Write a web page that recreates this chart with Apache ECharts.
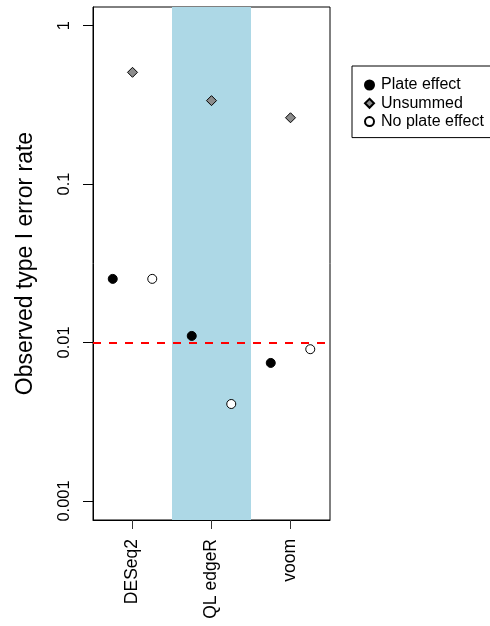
<!DOCTYPE html>
<html>
<head>
<meta charset="utf-8">
<script src="https://cdn.jsdelivr.net/npm/echarts@6/dist/echarts.min.js"></script>
<style>
html,body{margin:0;padding:0;background:#fff;}
#chart{width:490px;height:626px;}
</style>
</head>
<body>
<div id="chart"></div>
<script>
const methods = ['DESeq2', 'QL edgeR', 'voom'];
const plateEffect = [0.0252, 0.0110, 0.00743];
const unsummed = [0.507, 0.336, 0.262];
const noPlateEffect = [0.0252, 0.00409, 0.00907];
const yTicks = [0.001, 0.01, 0.1, 1];
const nominalRate = 0.01;

const FONT = 'Liberation Sans, Arial, Helvetica, sans-serif';

function pts(vals, off) {
  return vals.map((v, i) => [i + 1 + off, v]);
}

const chart = echarts.init(document.getElementById('chart'), null, {renderer: 'canvas'});
chart.setOption({
  animation: false,
  backgroundColor: '#fff',
  grid: {left: 93, top: 7, right: 160, bottom: 106, show: true, borderColor: '#000', borderWidth: 1, backgroundColor: 'transparent'},
  legend: {
    orient: 'vertical',
    left: 352,
    top: 66,
    padding: [11, 40, 8, 12],
    borderColor: '#000',
    borderWidth: 1,
    itemWidth: 9,
    itemHeight: 9,
    itemGap: 2.3,
    textStyle: {fontFamily: FONT, fontSize: 16, color: '#000', padding: [0, 0, 0, 2]},
    data: ['Plate effect', 'Unsummed', 'No plate effect']
  },
  xAxis: {
    type: 'value',
    min: 0.5,
    max: 3.5,
    splitLine: {show: false},
    axisLine: {show: true, onZero: false, lineStyle: {color: '#000', width: 1}},
    axisTick: {show: true, length: 9, customValues: [1, 2, 3], lineStyle: {color: '#333'}},
    axisLabel: {
      customValues: [1, 2, 3],
      rotate: 90,
      margin: 19,
      fontFamily: FONT,
      fontSize: 17.5,
      color: '#000',
      formatter: v => methods[Math.round(v) - 1] || ''
    }
  },
  yAxis: {
    type: 'log',
    logBase: 10,
    min: 0.000758,
    max: 1.31,
    name: 'Observed type I error rate',
    nameLocation: 'middle',
    nameGap: 56,
    nameTextStyle: {fontFamily: FONT, fontSize: 23, color: '#000'},
    splitLine: {show: false},
    axisLine: {show: true, lineStyle: {color: '#000', width: 1}},
    axisTick: {show: true, length: 10, customValues: yTicks, lineStyle: {color: '#000'}},
    axisLabel: {
      customValues: yTicks,
      rotate: 90,
      margin: 20,
      fontFamily: FONT,
      fontSize: 16.5,
      color: '#000',
      formatter: v => String(v)
    }
  },
  series: [
    {
      name: 'Plate effect',
      type: 'scatter',
      symbol: 'circle',
      symbolSize: 9,
      itemStyle: {color: '#000', borderColor: '#000', borderWidth: 1, opacity: 1},
      data: pts(plateEffect, -0.25),
      z: 5,
      markArea: {
        silent: true,
        itemStyle: {color: '#ADD8E6', opacity: 1},
        data: [[{xAxis: 1.5}, {xAxis: 2.5}]],
        z: 1
      },
      markLine: {
        silent: true,
        symbol: 'none',
        label: {show: false},
        lineStyle: {color: '#ff0000', width: 2, type: [8, 8], opacity: 1},
        data: [{yAxis: nominalRate}]
      }
    },
    {
      name: 'Unsummed',
      type: 'scatter',
      symbol: 'diamond',
      symbolSize: 10,
      itemStyle: {color: '#8c8c8c', borderColor: '#000', borderWidth: 1, opacity: 1},
      data: pts(unsummed, 0),
      z: 5
    },
    {
      name: 'No plate effect',
      type: 'scatter',
      symbol: 'circle',
      symbolSize: 9,
      itemStyle: {color: '#fff', borderColor: '#000', borderWidth: 1, opacity: 1},
      data: pts(noPlateEffect, 0.25),
      z: 5
    }
  ]
});
</script>
</body>
</html>
